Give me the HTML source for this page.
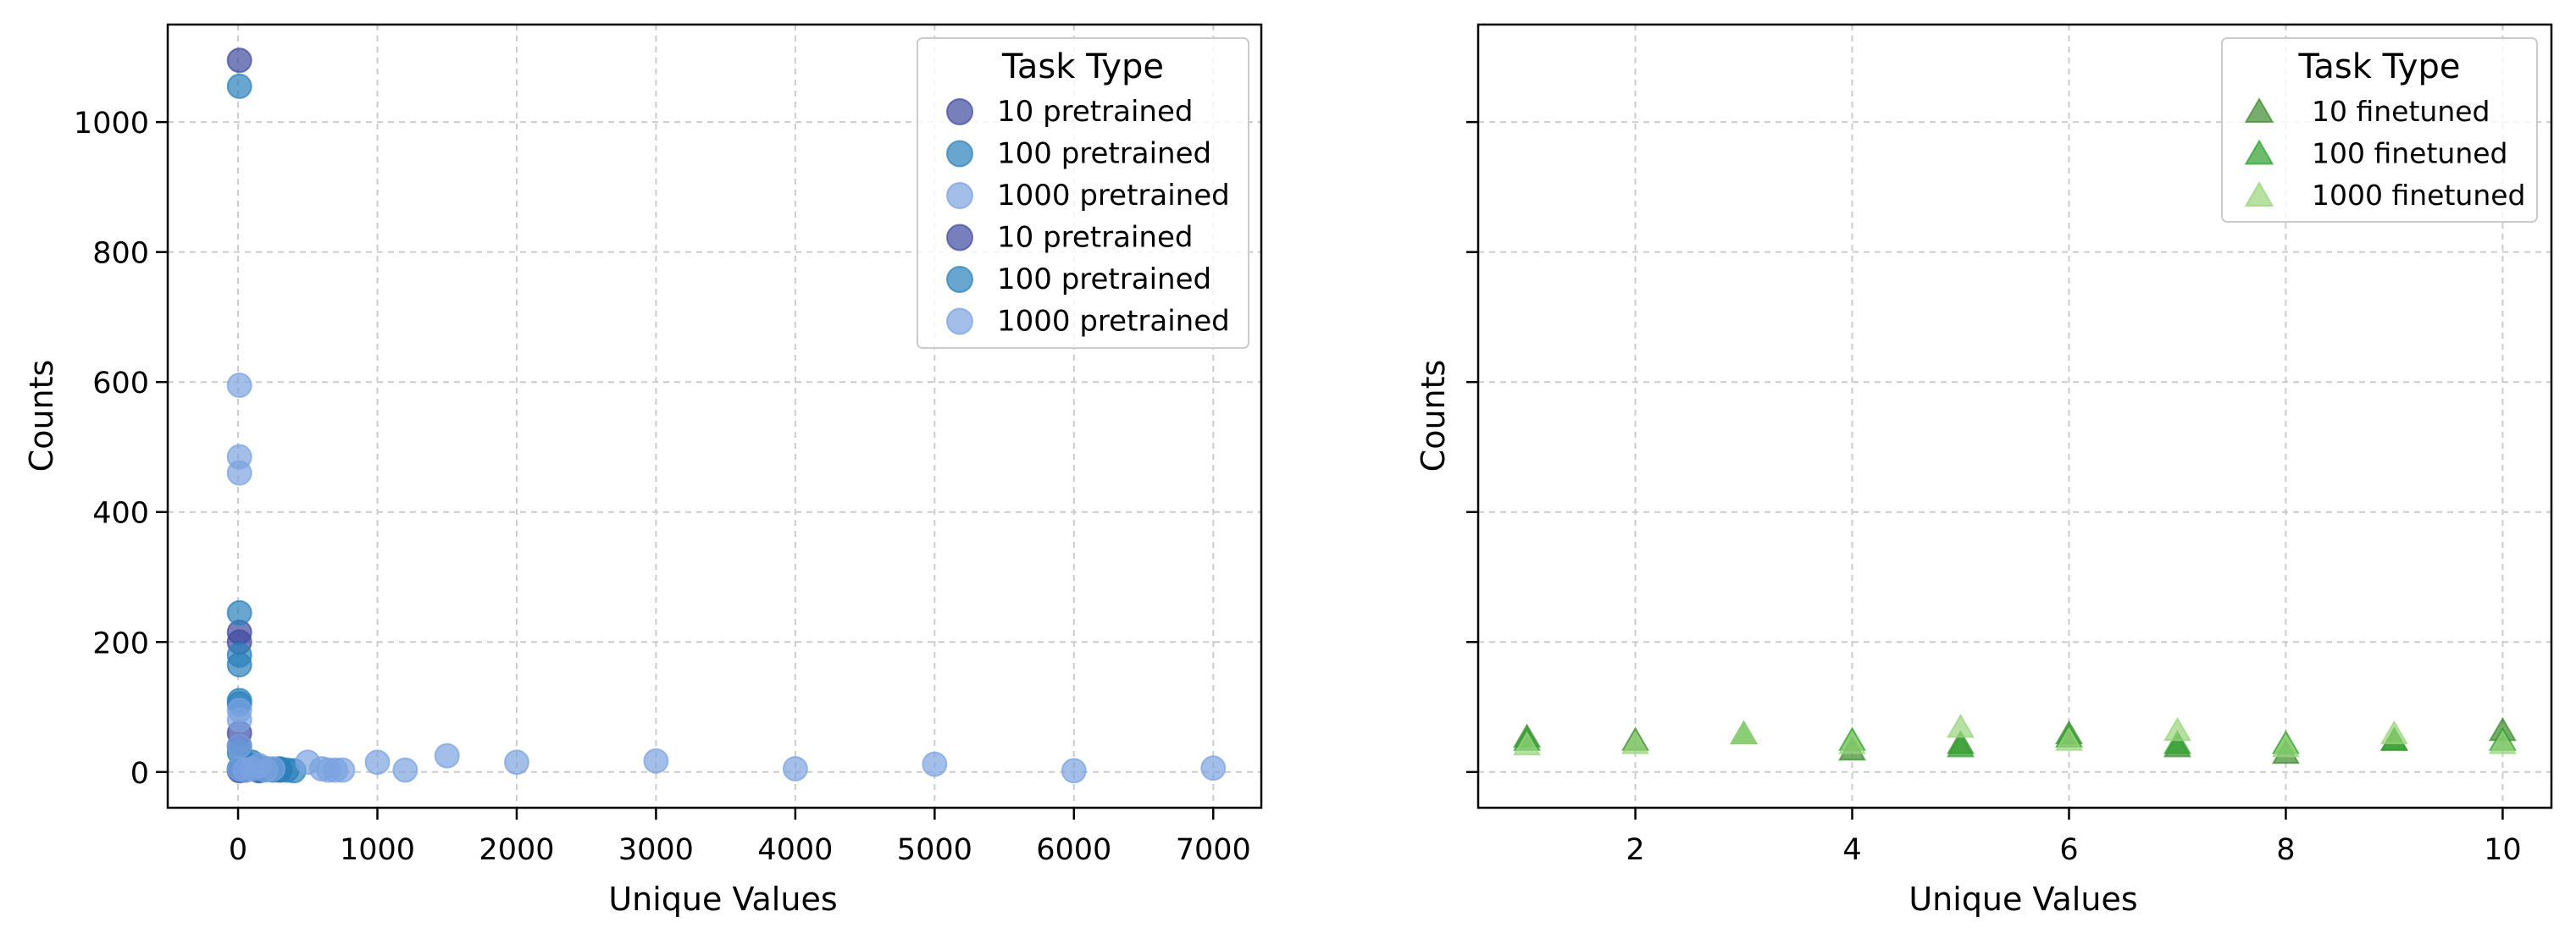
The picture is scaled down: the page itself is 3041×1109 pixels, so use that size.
<!DOCTYPE html>
<html><head><meta charset="utf-8"><style>
html,body{margin:0;padding:0;background:#fff}
svg{display:block;font-family:"DejaVu Sans","Liberation Sans",sans-serif}
</style></head><body>
<svg id="chart" width="3041" height="1109" viewBox="0 0 3041 1109" xmlns="http://www.w3.org/2000/svg"></svg>
<script>
// ---- data: left panel (pretrained) ----
const p10x = [10, 10, 10, 10, 10, 10, 10, 50, 150, 300];
const p10y = [1095, 215, 200, 60, 40, 5, 2, 3, 2, 3];
const p100x = [10, 10, 10, 10, 10, 10, 10, 10, 100, 200, 250, 300, 350, 400, 100, 150];
const p100y = [1055, 245, 180, 165, 110, 105, 30, 5, 10, 5, 3, 5, 3, 2, 15, 3];
const p1000x = [10, 10, 10, 10, 10, 10, 10, 50, 100, 150, 200, 250, 500, 600, 650, 700, 750, 1000, 1200, 1500, 2000, 3000, 4000, 5000, 6000, 7000];
const p1000y = [595, 485, 460, 95, 80, 40, 5, 3, 5, 10, 3, 5, 15, 5, 3, 3, 3, 15, 3, 25, 15, 17, 5, 12, 2, 6];
// ---- data: right panel (finetuned) ----
const f10x = [1, 2, 4, 5, 6, 7, 8, 9, 10];
const f10y = [50, 45, 30, 40, 55, 35, 25, 45, 60];
const f100x = [1, 3, 4, 5, 6, 7, 8, 9, 10];
const f100y = [45, 55, 45, 35, 50, 40, 40, 45, 45];
const f1000x = [1, 2, 3, 4, 5, 6, 7, 8, 9, 10];
const f1000y = [38, 40, 55, 40, 65, 45, 60, 35, 55, 40];
const yTicks = [0, 200, 400, 600, 800, 1000];
const lxTicks = [0, 1000, 2000, 3000, 4000, 5000, 6000, 7000];
const rxTicks = [2, 4, 6, 8, 10];

const svg = document.getElementById('chart');
const NS = 'http://www.w3.org/2000/svg';
function mk(tag, attrs, parent) {
  const e = document.createElementNS(NS, tag);
  for (const k in attrs) e.setAttribute(k, attrs[k]);
  (parent || svg).appendChild(e);
  return e;
}
const T = 29, B = 954;
const yLo = -55, yHi = 1150;
const ys = v => B - (v - yLo) / (yHi - yLo) * (B - T);
const L1 = 198, R1 = 1489, L2 = 1745, R2 = 3012;
const xs1 = v => L1 + (v + 505) / 7850 * (R1 - L1);
const xs2 = v => L2 + (v - 0.55) / 9.9 * (R2 - L2);

function panel(L, R, xs, xt, name) {
  const g = mk('g', {});
  
  
  xt.forEach(t => {
    const l = mk('line', {x1: xs(t), x2: xs(t), y1: T, y2: B, stroke: '#cccccc', 'stroke-width': 2, 'stroke-dasharray': '7,6'}, g);
    
    
  });
  yTicks.forEach(t => {
    const l = mk('line', {x1: L, x2: R, y1: ys(t), y2: ys(t), stroke: '#cccccc', 'stroke-width': 2, 'stroke-dasharray': '7,6'}, g);
    
    
  });
  return g;
}
function axes(L, R, xs, xt, name, showYLabels) {
  const g = mk('g', {});
  
  
  const fr = mk('rect', {x: L, y: T, width: R - L, height: B - T, fill: 'none', stroke: '#000', 'stroke-width': 2.5}, g);
  
  
  xt.forEach(t => {
    mk('line', {x1: xs(t), x2: xs(t), y1: B, y2: B + 14, stroke: '#000', 'stroke-width': 2.5}, g);
    const tx = mk('text', {x: xs(t), y: 1015, 'font-size': 35, 'text-anchor': 'middle'}, g);
    tx.textContent = t;
    
    
  });
  yTicks.forEach(t => {
    mk('line', {x1: L - 14, x2: L, y1: ys(t), y2: ys(t), stroke: '#000', 'stroke-width': 2.5}, g);
    if (showYLabels) {
      const tx = mk('text', {x: L - 22, y: ys(t) + 13, 'font-size': 35, 'text-anchor': 'end'}, g);
      tx.textContent = t;
      
      
    }
  });
  const xl = mk('text', {x: (L + R) / 2 + 10, y: 1075, 'font-size': 38, 'text-anchor': 'middle'}, g);
  xl.textContent = 'Unique Values';
  
  
  const yx = L === L1 ? 62 : 1705;
  const yl = mk('text', {x: yx, y: 491, 'font-size': 38, 'text-anchor': 'middle', transform: `rotate(-90 ${yx} 491)`}, g);
  yl.textContent = 'Counts';
  
  
}
function circles(xa, ya, color, name) {
  xa.forEach((x, i) => {
    const c = mk('circle', {cx: xs1(x), cy: ys(ya[i]), r: 14, fill: color, 'fill-opacity': 0.7, stroke: color, 'stroke-opacity': 0.7, 'stroke-width': 2});
    
    
  });
}
function tri(cx, cy, s) {
  return `${cx},${cy - s} ${cx - s * 0.87},${cy + s * 0.5} ${cx + s * 0.87},${cy + s * 0.5}`;
}
function triangles(xa, ya, color, name) {
  xa.forEach((x, i) => {
    const p = mk('polygon', {points: tri(xs2(x), ys(ya[i]), 17), fill: color, 'fill-opacity': 0.7, stroke: color, 'stroke-opacity': 0.7, 'stroke-width': 2});
    
    
  });
}
function legend(x, y, w, h, entries, marker, name) {
  const g = mk('g', {});
  
  
  mk('rect', {x: x, y: y, width: w, height: h, rx: 6, fill: '#fff', 'fill-opacity': 0.8, stroke: '#cccccc', 'stroke-width': 2}, g);
  const tt = mk('text', {x: x + w / 2, y: y + 47, 'font-size': 40, 'text-anchor': 'middle'}, g);
  tt.textContent = 'Task Type';
  
  
  entries.forEach((e, i) => {
    const cy = y + 87 + i * 49.5;
    const eg = mk('g', {}, g);
    
    
    if (marker === 'c') {
      mk('circle', {cx: x + 50, cy: cy, r: 15, fill: e[1], 'fill-opacity': 0.7, stroke: e[1], 'stroke-opacity': 0.7, 'stroke-width': 2}, eg);
    } else {
      mk('polygon', {points: tri(x + 44, cy + 3, 18), fill: e[1], 'fill-opacity': 0.7, stroke: e[1], 'stroke-opacity': 0.7, 'stroke-width': 2}, eg);
    }
    const t = mk('text', {x: x + (marker === 'c' ? 94 : 106), y: cy + 11, 'font-size': marker === 'c' ? 34 : 33}, eg);
    t.textContent = e[0];
  });
}
const c10 = '#3f4aa0', c100 = '#2a80bb', c1000 = '#7aa3e0';
const g10 = '#3d8a2e', g100 = '#2ea02e', g1000 = '#98d47a';
panel(L1, R1, xs1, lxTicks, 'left');
panel(L2, R2, xs2, rxTicks, 'right');
circles(p10x, p10y, c10, 'pretrained-10');
circles(p100x, p100y, c100, 'pretrained-100');
circles(p1000x, p1000y, c1000, 'pretrained-1000');
triangles(f10x, f10y, g10, 'finetuned-10');
triangles(f100x, f100y, g100, 'finetuned-100');
triangles(f1000x, f1000y, g1000, 'finetuned-1000');
axes(L1, R1, xs1, lxTicks, 'left', true);
axes(L2, R2, xs2, rxTicks, 'right', false);
legend(1083, 45, 391, 366, [['10 pretrained', c10], ['100 pretrained', c100], ['1000 pretrained', c1000], ['10 pretrained', c10], ['100 pretrained', c100], ['1000 pretrained', c1000]], 'c', 'left-legend');
legend(2623, 45, 372, 217, [['10 finetuned', g10], ['100 finetuned', g100], ['1000 finetuned', g1000]], 't', 'right-legend');
</script>
</body></html>
